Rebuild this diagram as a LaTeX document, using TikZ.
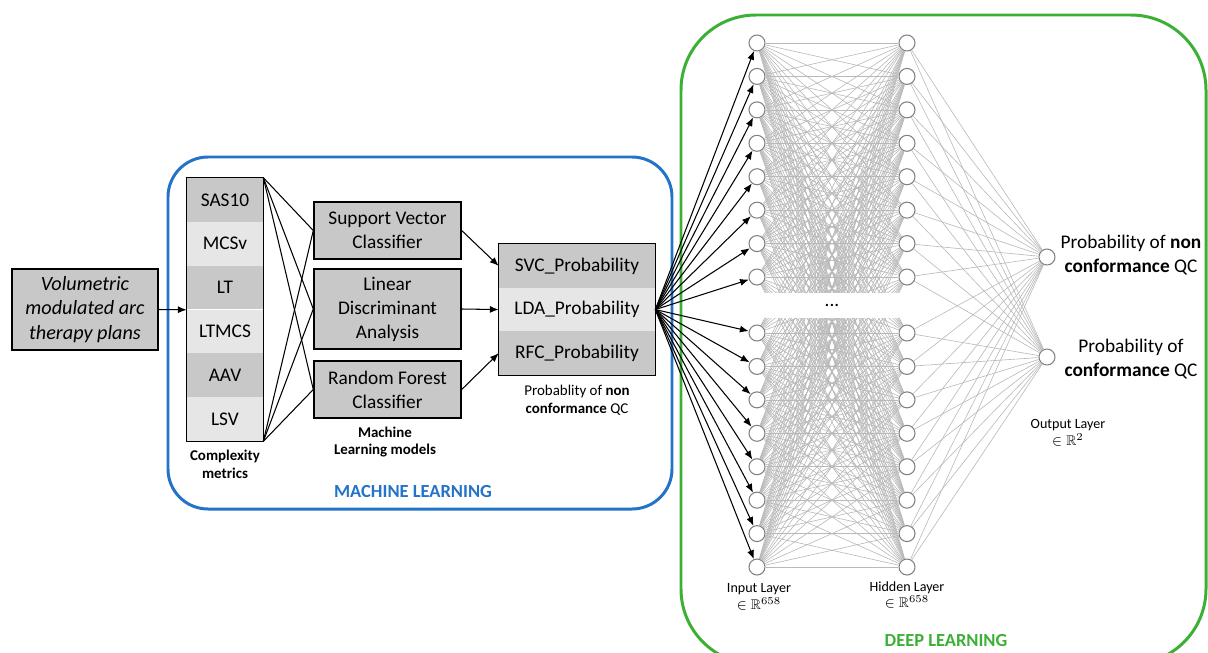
\documentclass[tikz,border=0pt]{standalone}
\usepackage{fontspec}
\setmainfont{Carlito}
\usepackage{amssymb}
\usetikzlibrary{arrows.meta}
\definecolor{darkcell}{RGB}{200,200,200}
\definecolor{lightcell}{RGB}{230,230,230}
\definecolor{mlblue}{RGB}{35,115,200}
\definecolor{dlgreen}{RGB}{60,176,53}
\definecolor{edgegray}{RGB}{185,185,185}
\tikzset{
  box/.style={draw, fill=darkcell, line width=0.8pt, align=center, inner sep=0pt,
    font=\fontsize{11}{13.7}\selectfont},
  cell/.style={fill=#1, inner sep=0pt, minimum height=0.875cm,
    font=\fontsize{11}{13.7}\selectfont},
  neuron/.style={circle, draw=gray, fill=white, line width=0.6pt,
    minimum size=0.32cm, inner sep=0pt},
  smalltext/.style={align=center, font=\fontsize{8.5}{10.2}\selectfont},
  boldsmall/.style={align=center, font=\fontsize{8.5}{10.2}\selectfont\bfseries},
  layertext/.style={align=center, font=\fontsize{8}{9.5}\selectfont},
  outtext/.style={align=center, font=\fontsize{11}{13.7}\selectfont},
  title/.style={text=#1, font=\fontsize{10.5}{12}\selectfont\bfseries},
  wire/.style={line width=0.6pt},
  feed/.style={line width=0.6pt, -{Latex[length=5pt,width=4pt]}},
  weight/.style={edgegray, line width=0.35pt},
}
\begin{document}
\begin{tikzpicture}[x=0.02cm, y=-0.02cm]
  \clip (0,0) rectangle (1208,653);
  % the two regions
  \draw[mlblue, line width=1.7pt, rounded corners=0.8cm] (168,157) rectangle (672,509);
  \draw[dlgreen, line width=1.7pt, rounded corners=1.5cm] (681,15) rectangle (1206,664);
  \node[title=mlblue] (mltitle) at (413,492) {MACHINE LEARNING};
  \node[title=dlgreen] (dltitle) at (946,641) {DEEP LEARNING};

  % plans and metrics
  \node[box, minimum width=2.92cm, minimum height=1.62cm,
    font=\itshape\fontsize{11.5}{14}\selectfont] (vmat) at (85,309.5)
    {Volumetric\\modulated arc\\therapy plans};
  \foreach \name [count=\i] in {SAS10,MCSv,LT,LTMCS,AAV,LSV} {
    \ifodd\i \def\shade{darkcell}\else\def\shade{lightcell}\fi
    \node[cell=\shade, minimum width=1.52cm] (m\i) at (225,{178+43.83*(\i-0.5)}) {\name};
  }
  \draw[line width=0.8pt] (m1.north west) rectangle (m6.south east);
  \node[boldsmall] (mlabel) at (225,464) {Complexity\\metrics};
  \draw[feed] (vmat.east) -- (m3.south west);

  % models
  \node[box, minimum width=2.94cm, minimum height=1.14cm] (svc) at (387.5,230.5) {Support Vector\\Classifier};
  \node[box, minimum width=2.94cm, minimum height=1.6cm] (lda) at (387.5,309) {Linear\\Discriminant\\Analysis};
  \node[box, minimum width=2.94cm, minimum height=1.14cm] (rfc) at (387.5,389.5) {Random Forest\\Classifier};
  \node[boldsmall] (modlabel) at (385,442) {Machine\\Learning models};
  \foreach \model in {svc,lda,rfc} {
    \draw[wire] (m1.north east) -- (\model.west);
    \draw[wire] (m6.south east) -- (\model.west);
  }

  % probabilities
  \foreach \name/\shade [count=\i] in {SVC/darkcell,LDA/lightcell,RFC/darkcell}
    \node[cell=\shade, minimum width=3.12cm] (p\i) at (577,{244+43.7*(\i-0.5)}) {\name\_Probability};
  \draw[line width=0.8pt] (p1.north west) rectangle (p3.south east);
  \node[smalltext] (plabel) at (577,400) {Probablity of \textbf{non}\\\textbf{conformance} QC};
  \draw[feed] (svc.east) -- (p1.west);
  \draw[feed] (lda.east) -- (p2.west);
  \draw[feed] (rfc.east) -- (p3.west);

  % network
  \foreach \i in {1,...,16} {
    \pgfmathsetmacro{\ny}{\i<9 ? 43+33.43*(\i-1) : 333+33.43*(\i-9)}
    \node[neuron] (in\i) at (757,\ny) {};
    \node[neuron] (hid\i) at (907,\ny) {};
  }
  \node[neuron] (out1) at (1047,257) {};
  \node[neuron] (out2) at (1047,357) {};
  \foreach \i in {1,...,16} {
    \foreach \j in {1,...,16}
      \draw[weight] (in\i) -- (hid\j);
    \draw[weight] (hid\i) -- (out1);
    \draw[weight] (hid\i) -- (out2);
    \draw[feed] (p2.east) -- (in\i);
  }
  \node[fill=white, minimum width=2.7cm, minimum height=0.5cm, inner sep=0pt,
    font=\fontsize{11}{13.7}\selectfont] (gap) at (832,305.5) {...};

  \node[outtext] (nonqc) at (1131,255) {Probability of \textbf{non}\\\textbf{conformance} QC};
  \node[outtext] (confqc) at (1131,359) {Probability of\\\textbf{conformance} QC};
  \node[layertext] (inlabel) at (759,597) {Input Layer\\$\in\mathbb{R}^{658}$};
  \node[layertext] (hidlabel) at (907,595) {Hidden Layer\\$\in\mathbb{R}^{658}$};
  \node[layertext] (outlabel) at (1068,433) {Output Layer\\$\in\mathbb{R}^{2}$};
\end{tikzpicture}
\end{document}
